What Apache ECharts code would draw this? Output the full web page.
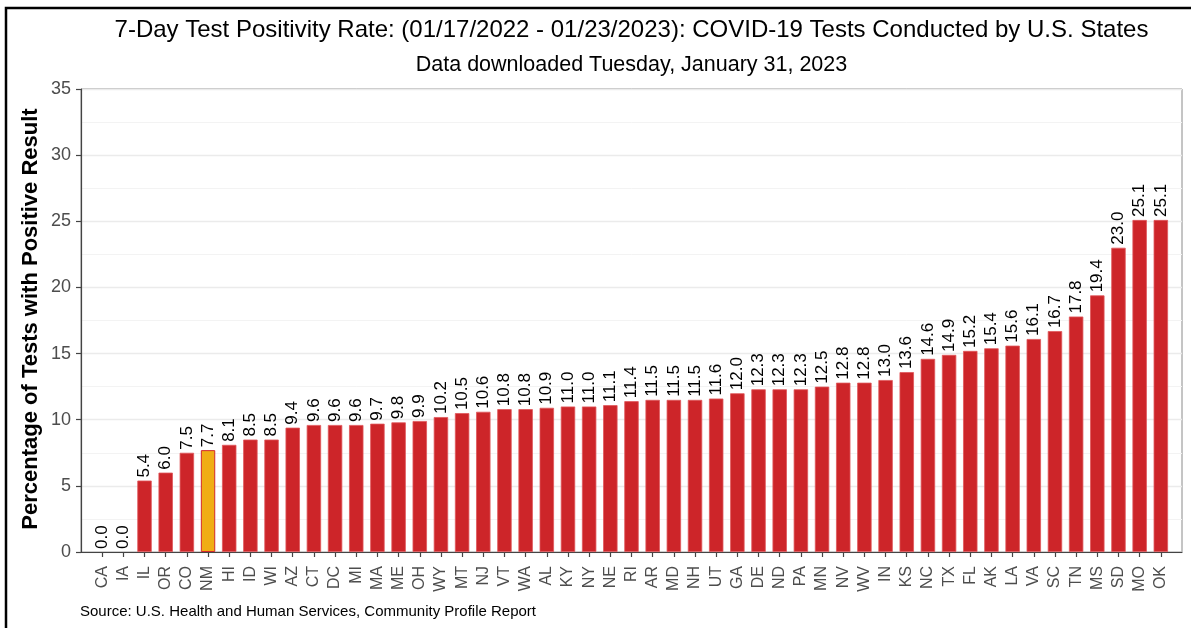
<!DOCTYPE html>
<html>
<head>
<meta charset="utf-8">
<script src="https://cdn.jsdelivr.net/npm/echarts@6/dist/echarts.min.js"></script>
<style>
html,body{margin:0;padding:0;background:#fff;}
#chart{width:1191px;height:628px;}
</style>
</head>
<body>
<div id="chart"></div>
<script>
// ---- data ----
const states = ['CA','IA','IL','OR','CO','NM','HI','ID','WI','AZ','CT','DC','MI','MA','ME','OH','WY','MT','NJ','VT','WA','AL','KY','NY','NE','RI','AR','MD','NH','UT','GA','DE','ND','PA','MN','NV','WV','IN','KS','NC','TX','FL','AK','LA','VA','SC','TN','MS','SD','MO','OK'];
const positivity = [0.0,0.0,5.4,6.0,7.5,7.7,8.1,8.5,8.5,9.4,9.6,9.6,9.6,9.7,9.8,9.9,10.2,10.5,10.6,10.8,10.8,10.9,11.0,11.0,11.1,11.4,11.5,11.5,11.5,11.6,12.0,12.3,12.3,12.3,12.5,12.8,12.8,13.0,13.6,14.6,14.9,15.2,15.4,15.6,16.1,16.7,17.8,19.4,23.0,25.1,25.1];
const highlightState = 'NM';
const yTicks = [0,5,10,15,20,25,30,35];

const titleText = '7-Day Test Positivity Rate: (01/17/2022 - 01/23/2023): COVID-19 Tests Conducted by U.S. States';
const subtitleText = 'Data downloaded Tuesday, January 31, 2023';
const yTitle = 'Percentage of Tests with Positive Result';
const sourceText = 'Source: U.S. Health and Human Services, Community Profile Report';

// ---- layout ----
const W = 1191, H = 628;
const panelL = 81, panelR = 1182, panelT = 89, panelB = 552;
const slot = (panelR - panelL) / (states.length + 1);
const FONT = '"Liberation Sans", Arial, sans-serif';

const chart = echarts.init(document.getElementById('chart'), null, {renderer:'canvas'});

const barData = positivity.map((v, i) => ({
  value: v,
  itemStyle: states[i] === highlightState
    ? {color:'#F0AD14', borderColor:'#D0282B', borderWidth:1}
    : {color:'#CD2529', borderColor:'#E0575A', borderWidth: v > 0 ? 0.8 : 0}
}));

chart.setOption({
  animation:false,
  backgroundColor:'#fff',
  grid:[
    {left:panelL, right:W-panelR, top:panelT, bottom:H-panelB, show:true, borderColor:'#8a8a8a', borderWidth:1, backgroundColor:'transparent'},
    {left:panelL + slot/2, right:W-panelR + slot/2, top:panelT, bottom:H-panelB}
  ],
  xAxis:[
    {gridIndex:0, type:'value', min:0, max:1, axisLine:{show:true, onZero:false, lineStyle:{color:'#444', width:1.2}}, axisTick:{show:false}, axisLabel:{show:false}, splitLine:{show:false}},
    {gridIndex:1, type:'category', data:states, boundaryGap:true,
     axisLine:{show:false}, axisTick:{show:true, alignWithLabel:true, length:5, lineStyle:{color:'#444', width:1.2}},
     axisLabel:{rotate:90, color:'#4D4D4D', fontSize:16, fontFamily:FONT, margin:14, interval:0}, splitLine:{show:false}}
  ],
  yAxis:[
    {gridIndex:0, type:'value', min:0, max:35, interval:5,
     axisLine:{show:true, lineStyle:{color:'#444', width:1.2}},
     axisTick:{show:true, length:5, lineStyle:{color:'#444', width:1.2}},
     axisLabel:{color:'#4D4D4D', fontSize:18, fontFamily:FONT, margin:10,
       customValues: yTicks},
     splitLine:{show:true, lineStyle:{color:'#EBEBEB', width:1.3}},
     minorTick:{show:false, splitNumber:2},
     minorSplitLine:{show:true, lineStyle:{color:'#F3F3F3', width:1}}},
    {gridIndex:1, type:'value', min:0, max:35, show:false, splitLine:{show:false}}
  ],
  series:[{
    type:'bar', xAxisIndex:1, yAxisIndex:1, data:barData, barWidth: slot*0.68,
    label:{show:true, position:'top', rotate:90, align:'left', verticalAlign:'middle', distance:3,
      fontSize:17, fontFamily:FONT, color:'#000', formatter:p => p.value.toFixed(1)}
  }],
  graphic:[
    {type:'rect', shape:{x:6, y:8, width:W+10, height:H+10}, style:{fill:'none', stroke:'#000', lineWidth:2.5}, silent:true},
    {type:'text', x:(panelL+panelR)/2, y:30, style:{text:titleText, font:'24px '+FONT, fill:'#000', textAlign:'center', textVerticalAlign:'middle'}},
    {type:'text', x:(panelL+panelR)/2, y:65, style:{text:subtitleText, font:'21.5px '+FONT, fill:'#000', textAlign:'center', textVerticalAlign:'middle'}},
    {type:'text', x:31, y:319, rotation:Math.PI/2, style:{text:yTitle, font:'bold 22px '+FONT, fill:'#000', textAlign:'center', textVerticalAlign:'middle'}},
    {type:'text', x:80, y:612, style:{text:sourceText, font:'15px '+FONT, fill:'#000', textAlign:'left', textVerticalAlign:'middle'}}
  ]
});
</script>
</body>
</html>
